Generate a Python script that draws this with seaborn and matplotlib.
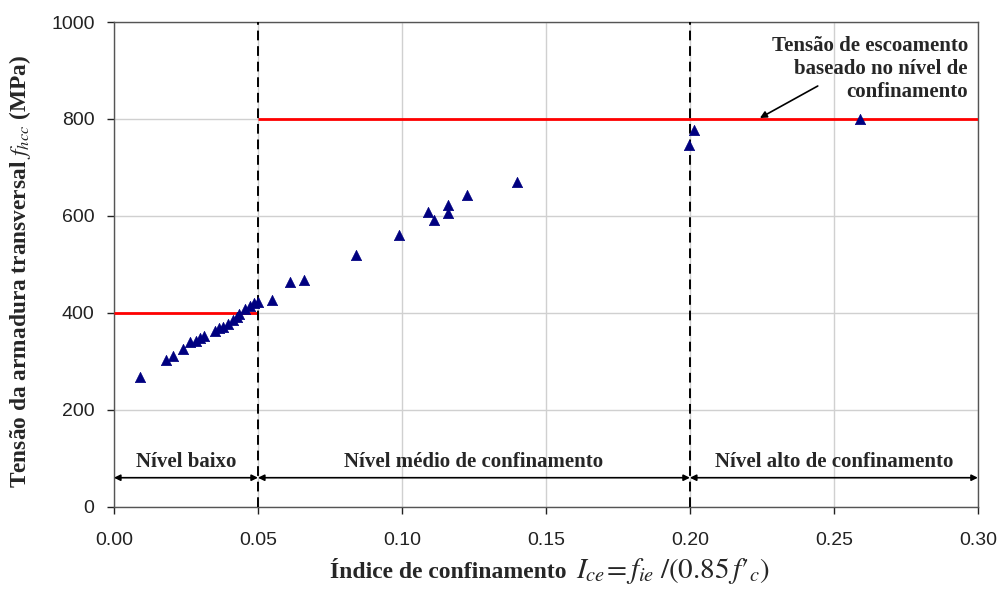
import matplotlib
matplotlib.use("Agg")
import matplotlib.pyplot as plt
import seaborn as sns
import pandas as pd

# Data
ice = [0.009, 0.018, 0.0205, 0.024, 0.0265, 0.0284, 0.030, 0.0313, 0.035, 0.0365, 0.038, 0.0396, 0.0413, 0.0426, 0.0434, 0.0455, 0.0472, 0.0486, 0.050,
       0.055, 0.061, 0.066, 0.084, 0.099, 0.109, 0.111, 0.116, 0.116, 0.1225, 0.140,
       0.1997, 0.2014, 0.259]
fhcc = [268, 303, 312, 325, 340, 343, 348, 352, 363, 368, 370, 377, 385, 392, 398, 408, 415, 420, 422,
        427, 464, 468, 520, 561, 608, 592, 623, 606, 643, 670,
        746, 777, 800]

yield_x0 = [0.0, 0.05]
yield_x1 = [0.05, 0.30]
yield_val = [400, 800]

bounds = [0.0, 0.05, 0.20, 0.30]
level_labels = ["Nível baixo", "Nível médio de confinamento", "Nível alto de confinamento"]

xticks = [0.00, 0.05, 0.10, 0.15, 0.20, 0.25, 0.30]
yticks = [0, 200, 400, 600, 800, 1000]

df = pd.DataFrame({"Ice": ice, "fhcc": fhcc})

sns.set_theme(style="whitegrid")
plt.rcParams["font.family"] = ["Liberation Sans", "DejaVu Sans"]
plt.rcParams["mathtext.fontset"] = "stix"

fig = plt.figure(figsize=(10.05, 5.9), dpi=100)
ax = fig.add_axes([0.1134, 0.141, 0.8596, 0.8217])

ax.grid(True, color="#d0d0d0", linewidth=1.0)
for s in ax.spines.values():
    s.set_color("#555555")
    s.set_linewidth(1.0)

sns.scatterplot(data=df, x="Ice", y="fhcc", marker="^", s=55, color="#000080",
                edgecolor="#000080", linewidth=0.5, ax=ax, zorder=4)

for x0, x1, v in zip(yield_x0, yield_x1, yield_val):
    ax.hlines(v, x0, x1, color="#ff0000", linewidth=2, zorder=3)

for b in bounds[1:3]:
    ax.axvline(b, color="black", linestyle=(0, (5, 3)), linewidth=1.4, zorder=3)

for i, lab in enumerate(level_labels):
    a, b = bounds[i], bounds[i + 1]
    ax.annotate("", xy=(a, 60), xytext=(b, 60),
                arrowprops=dict(arrowstyle="<|-|>", color="black", lw=1.2,
                                mutation_scale=9, shrinkA=0, shrinkB=0), zorder=5)
    ax.text((a + b) / 2, 93, lab, ha="center", va="center",
            family=["Liberation Serif"], fontweight="bold", fontsize=15)

ax.text(0.2965, 903, "Tensão de escoamento\nbaseado no nível de\nconfinamento",
        ha="right", va="center", family=["Liberation Serif"], fontweight="bold",
        fontsize=15, linespacing=1.2)
ax.annotate("", xy=(0.2243, 802), xytext=(0.2444, 868),
            arrowprops=dict(arrowstyle="-|>", color="black", lw=1.2, mutation_scale=10,
                            shrinkA=0, shrinkB=0), zorder=5)

ax.set_xlim(0, 0.30)
ax.set_ylim(0, 1000)
ax.set_xticks(xticks)
ax.set_yticks(yticks)
ax.set_xticklabels([f"{t:.2f}" for t in xticks])
ax.tick_params(axis="both", labelsize=14, colors="#222222", length=5, width=1,
               direction="out", bottom=True, left=True)
ax.tick_params(axis="y", pad=9)
ax.tick_params(axis="x", pad=13)

ax.set_xlabel("")
# x label: bold text + math part (larger)
fig.text(566 / 1005, 1 - 578 / 590, "Índice de confinamento", ha="right", va="baseline",
         family=["Liberation Serif"], fontweight="bold", fontsize=17)
fig.text(576 / 1005, 1 - 578 / 590, r"$I_{ce}\!= f_{ie}\;/(0.85\,f′_{c})$",
         ha="left", va="baseline", fontsize=21)

ax.set_ylabel(r"Tensão da armadura transversal $f_{hcc}$ (MPa)",
              family=["Liberation Serif"], fontweight="bold", fontsize=16.8)
ax.yaxis.set_label_coords(-0.094, 0.485)

fig.savefig("out.png", dpi=100)
